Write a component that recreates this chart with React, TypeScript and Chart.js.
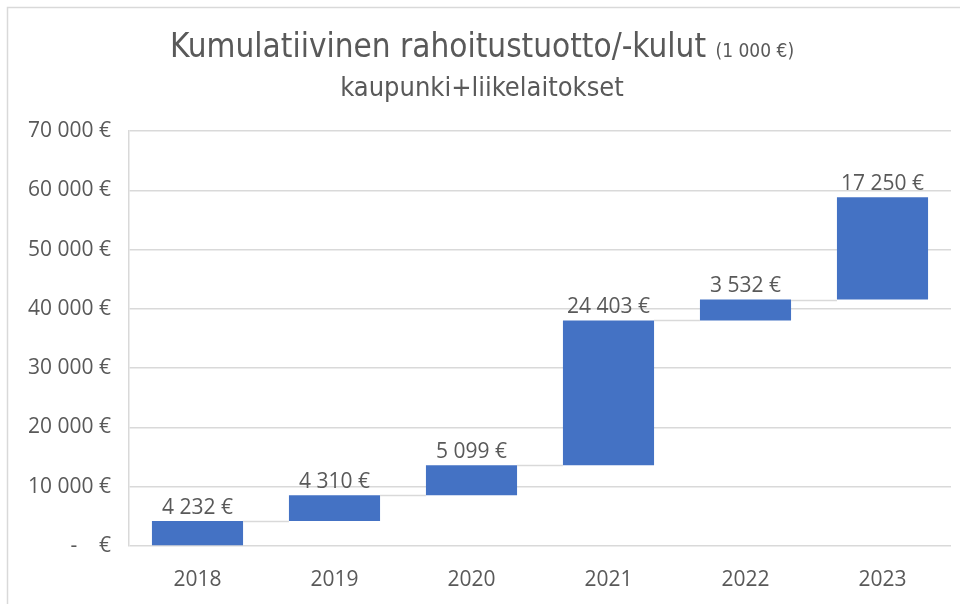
import React, { useEffect, useRef } from "react";
import { Chart, registerables } from "chart.js";

Chart.register(...registerables);

const years = ["2018", "2019", "2020", "2021", "2022", "2023"];
const changes = [4232, 4310, 5099, 24403, 3532, 17250];
const titleMain = "Kumulatiivinen rahoitustuotto/-kulut";
const titleUnit = "(1 000 €)";
const subtitle = "kaupunki+liikelaitokset";
const yMin = 0;
const yMax = 70000;
const yStep = 10000;

const fmt = (v: number) =>
  Math.round(v)
    .toString()
    .replace(/\B(?=(\d{3})+(?!\d))/g, " ") + " €";

const TEXT = "#595959";
const GRID = "#d9d9d9";
const BAR = "#4472C4";
const FONT = "'Open Sans', 'DejaVu Sans', sans-serif";
const NARROW = "'Liberation Sans Narrow', 'DejaVu Sans Condensed', 'Roboto', sans-serif";

export default function App() {
  const ref = useRef<HTMLCanvasElement | null>(null);

  useEffect(() => {
    if (!ref.current) return;
    const floating: [number, number][] = [];
    let acc = 0;
    for (const c of changes) {
      floating.push([acc, acc + c]);
      acc += c;
    }

    const frame = {
      id: "frame",
      beforeDraw(chart: any) {
        const { ctx } = chart;
        ctx.save();
        ctx.fillStyle = "#ffffff";
        ctx.fillRect(0, 0, chart.width, chart.height);
        ctx.strokeStyle = GRID;
        ctx.lineWidth = 1.5;
        ctx.beginPath();
        ctx.moveTo(7.5, chart.height);
        ctx.lineTo(7.5, 7.5);
        ctx.lineTo(chart.width, 7.5);
        ctx.stroke();
        // title
        ctx.fillStyle = TEXT;
        ctx.textBaseline = "middle";
        ctx.font = `33px ${NARROW}`;
        const w1 = ctx.measureText(titleMain + " ").width;
        ctx.font = `19px ${NARROW}`;
        const w2 = ctx.measureText(titleUnit).width;
        const cx = 482;
        const x = cx - (w1 + w2) / 2;
        ctx.textAlign = "left";
        ctx.font = `33px ${NARROW}`;
        ctx.fillText(titleMain + " ", x, 48);
        ctx.font = `19px ${NARROW}`;
        ctx.fillText(titleUnit, x + w1, 52);
        ctx.textAlign = "center";
        ctx.font = `27px ${NARROW}`;
        ctx.fillText(subtitle, cx, 89);
        ctx.restore();
      },
    };

    const waterfall = {
      id: "waterfall",
      afterDatasetsDraw(chart: any) {
        const { ctx } = chart;
        const els = chart.getDatasetMeta(0).data;
        ctx.save();
        ctx.strokeStyle = GRID;
        ctx.lineWidth = 1.5;
        for (let i = 0; i < els.length - 1; i++) {
          const a = els[i];
          const b = els[i + 1];
          const y = Math.round(a.y) + 0.5;
          ctx.beginPath();
          ctx.moveTo(a.x + a.width / 2, y);
          ctx.lineTo(b.x - b.width / 2, y);
          ctx.stroke();
        }
        ctx.fillStyle = TEXT;
        ctx.font = `21px ${FONT}`;
        ctx.textAlign = "center";
        ctx.textBaseline = "middle";
        els.forEach((el: any, i: number) => {
          const top = Math.min(el.y, el.base);
          ctx.fillText(fmt(changes[i]), el.x, top - 13);
        });
        ctx.restore();
      },
    };

    const chart = new Chart(ref.current, {
      type: "bar",
      data: {
        labels: years,
        datasets: [
          {
            data: floating as any,
            backgroundColor: BAR,
            borderWidth: 0,
            categoryPercentage: 1,
            barPercentage: 0.665,
          },
        ],
      },
      options: {
        animation: false,
        responsive: false,
        maintainAspectRatio: false,
        layout: { padding: { top: 131, right: 9, left: 0, bottom: 0 } },
        plugins: {
          legend: { display: false },
          title: { display: false },
          tooltip: { enabled: false },
        },
        scales: {
          x: {
            grid: { display: false, drawTicks: false },
            border: { display: false },
            ticks: {
              color: TEXT,
              font: { size: 21, family: FONT },
              padding: 21,
            },
            afterFit: (s: any) => {
              s.height = 58;
            },
          },
          y: {
            min: yMin,
            max: yMax,
            grid: { color: GRID, lineWidth: 1.5, drawTicks: false },
            border: { display: true, color: GRID, width: 1.5 },
            ticks: {
              stepSize: yStep,
              color: TEXT,
              font: { size: 21, family: FONT },
              padding: 18,
              callback: (v: any) => (Number(v) === 0 ? "-    €" : fmt(Number(v))),
            },
            afterFit: (s: any) => {
              s.width = 129;
            },
          },
        },
      },
      plugins: [frame, waterfall],
    });
    return () => chart.destroy();
  }, []);

  return (
    <div style={{ position: "fixed", left: 0, top: 0, width: 960, height: 604, background: "#fff" }}>
      <canvas ref={ref} width={960} height={604} style={{ display: "block", width: 960, height: 604 }} />
    </div>
  );
}
